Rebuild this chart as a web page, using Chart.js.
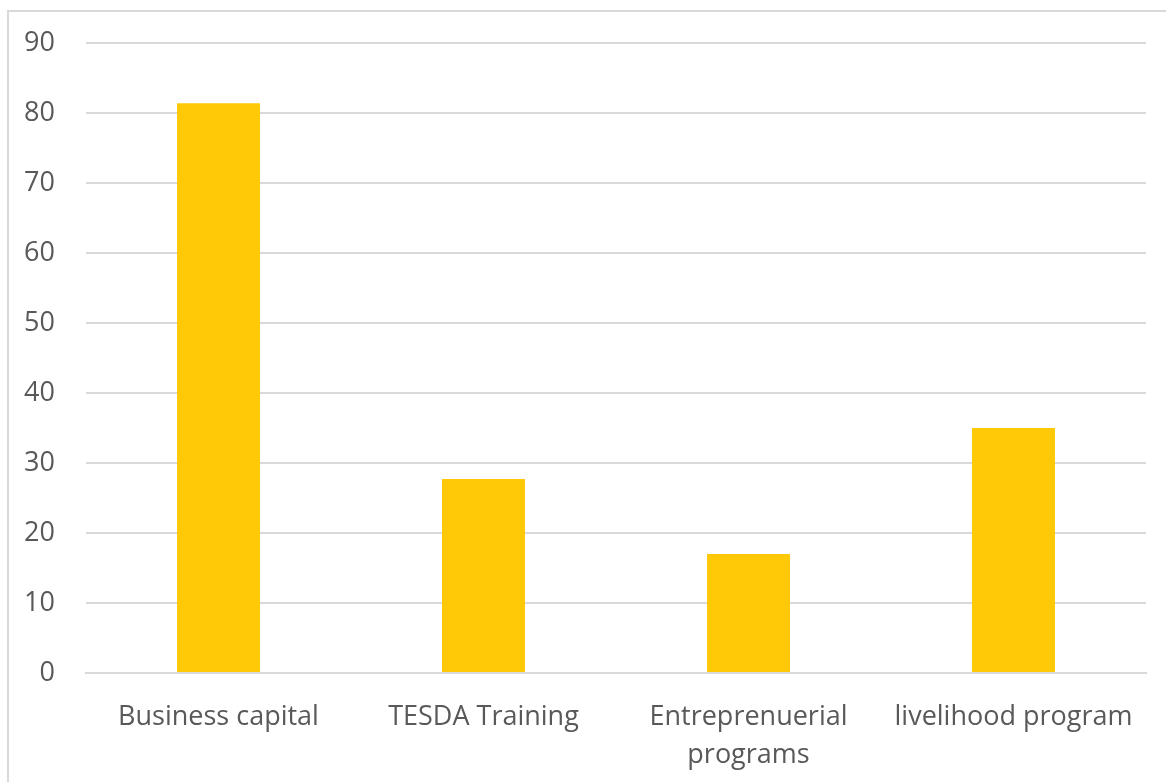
<!DOCTYPE html>
<html>
<head>
<meta charset="utf-8">
<script src="https://cdn.jsdelivr.net/npm/chart.js@4/dist/chart.umd.min.js"></script>
<style>
  html, body { margin: 0; padding: 0; background: #fff; }
  #wrap { position: relative; width: 1166px; height: 782px; overflow: hidden; }
  #frame { position: absolute; left: 7px; top: 10px; width: 1200px; height: 800px;
           border-left: 2px solid #d9d9d9; border-top: 2px solid #d9d9d9; box-sizing: border-box; }
  #myChart1 { position: absolute; left: 0; top: 0; }
</style>
</head>
<body>
<div id="wrap">
  <div id="frame"></div>
  <canvas id="myChart1" width="1166" height="782"></canvas>
</div>
<script>
let labels1 = ['Business capital', 'TESDA Training', ['Entreprenuerial', 'programs'], 'livelihood program'];
let values1 = [81.4, 27.7, 17, 35];
let yMax = 90;
let yStep = 10;
let barColor = '#FFC907';
let textColor = '#595959';
let gridColor = '#d9d9d9';

let ctx = document.getElementById('myChart1').getContext('2d');
let myChart1 = new Chart(ctx, {
    type: 'bar',
    data: {
        labels: labels1,
        datasets: [{
            data: values1,
            backgroundColor: barColor,
            categoryPercentage: 1,
            barPercentage: 0.313
        }]
    },
    options: {
        responsive: false,
        animation: false,
        layout: {
            padding: { top: 43, right: 20, left: 0, bottom: 0 }
        },
        plugins: {
            legend: { display: false },
            tooltip: { enabled: false }
        },
        scales: {
            x: {
                grid: { display: false, drawTicks: false },
                border: { color: gridColor, width: 2 },
                ticks: {
                    color: textColor,
                    padding: 25,
                    maxRotation: 0,
                    autoSkip: false,
                    font: { family: 'Open Sans', size: 27, lineHeight: 1.42 }
                },
                afterFit: (scale) => { scale.height = 782 - 673; }
            },
            y: {
                min: 0,
                max: yMax,
                grid: { color: gridColor, lineWidth: 2, drawTicks: false },
                border: { display: false },
                ticks: {
                    stepSize: yStep,
                    color: textColor,
                    padding: 31,
                    font: { family: 'Open Sans', size: 27, lineHeight: 1 }
                },
                afterFit: (scale) => { scale.width = 86; scale.paddingTop = 0; }
            }
        }
    }
})
</script>
</body>
</html>
